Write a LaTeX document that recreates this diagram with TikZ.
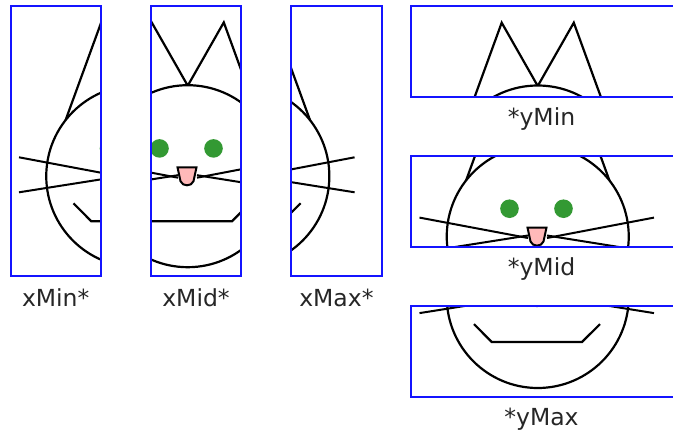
\documentclass[tikz,border=0pt]{standalone}
\usepackage{fontspec}
\setmainfont{DejaVu Sans}
\usepackage{tikz}
\usetikzlibrary{positioning}

\definecolor{eyegreen}{RGB}{51,153,51}
\definecolor{nosepink}{RGB}{255,185,185}
\definecolor{framblue}{RGB}{20,20,255}

\tikzset{
  catline/.style={line width=2.2pt, line join=miter, black},
  frame/.style={draw=framblue, line width=2pt},
  caption/.style={anchor=base, font=\fontsize{23.5}{26}\selectfont, text=black!85, inner sep=0pt},
  pics/cat/.style={code={
    % ears (inner ends hidden by the head)
    \draw[catline] (49.7,129.2) -- (90.7,16.7) -- (126.75,80) -- (162.8,16.7) -- (203.8,129.2);
    % head
    \draw[catline, fill=white] (126.75,170.5) circle[radius=91];
    % eyes
    \fill[eyegreen] (98.5,142.7) circle[radius=9.3];
    \fill[eyegreen] (152.5,142.7) circle[radius=9.3];
    % whiskers
    \draw[catline, line width=2pt] (8.5,151.6) -- (117,172);
    \draw[catline, line width=2pt] (8.5,186.6) -- (117,169.5);
    \draw[catline, line width=2pt] (243,151.6) -- (136,172);
    \draw[catline, line width=2pt] (243,186.6) -- (136,169.5);
    % nose
    \draw[catline, line width=2pt, fill=nosepink] (116.5,161.6) -- (135.5,161.6) -- (132.5,175.5)
      .. controls (130.5,181) and (121.5,181) .. (119.5,175.5) -- cycle;
    % mouth
    \draw[catline] (63,197.6) -- (80.7,215.5) -- (171,215.5) -- (189,197.6);
  }}
}

\begin{document}
\begin{tikzpicture}[x=1pt, y=-1pt]
\useasboundingbox (0,0) rectangle (673,434);

% panels: frame corner / size / cat origin / caption
\foreach \px/\py/\pw/\ph/\ox/\oy/\lx/\ly/\txt/\nm in {
    10.5/5.7/90.5/270.3/10.5/5.7/55.7/306/xMin*/xmin,
    150.8/5.7/90.5/270.3/61/5.7/196/306/xMid*/xmid,
    291.1/5.7/90.5/270.3/111.6/5.7/336.4/306/xMax*/xmax,
    411/6/270/90.5/411/6/541.5/125/*yMin/ymin,
    411/156/270/90.5/411/66/541.5/275/*yMid/ymid,
    411/306/270/90.5/411/126.5/541.5/425/*yMax/ymax}
{
  \begin{scope}
    \clip (\px,\py) rectangle ++(\pw,\ph);
    \pic at (\ox,\oy) {cat};
  \end{scope}
  \draw[frame] (\px,\py) rectangle ++(\pw,\ph);
  \node[caption] (lbl\nm) at (\lx,\ly) {\txt};
}

\end{tikzpicture}
\end{document}
